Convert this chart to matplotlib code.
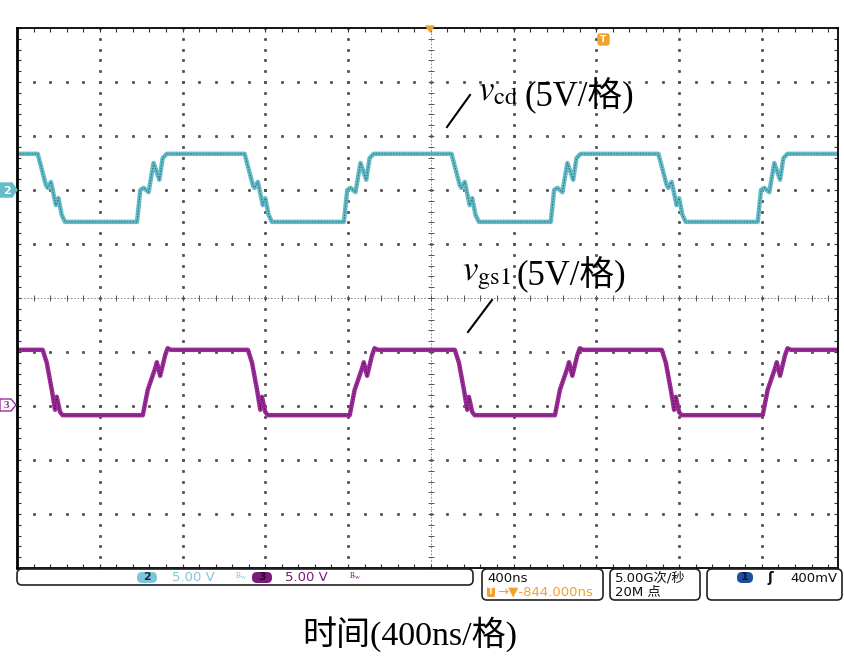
import matplotlib.pyplot as plt
import numpy as np
from matplotlib.patches import FancyBboxPatch, Polygon

plt.rcParams['mathtext.fontset'] = 'stix'

# screen units: x in divisions from the left edge, y in divisions from centre
x_max = 9.92

# channel 2 (v_cd): edge start times (div) and edge shapes (offset div, level div)
ch2_fall_t = [0.25, 2.75, 5.25, 7.75]
ch2_rise_t = [1.45, 3.95, 6.45, 8.95]
ch2_fall_dt = [0.00, 0.10, 0.12, 0.16, 0.22, 0.25, 0.29, 0.33]
ch2_fall_v = [2.67, 2.09, 2.04, 2.15, 1.72, 1.85, 1.54, 1.41]
ch2_rise_dt = [0.00, 0.04, 0.08, 0.14, 0.20, 0.27, 0.31, 0.36]
ch2_rise_v = [1.41, 2.00, 2.04, 1.96, 2.50, 2.19, 2.59, 2.67]

# channel 3 (v_gs1)
ch3_fall_t = [0.31, 2.79, 5.29, 7.79]
ch3_rise_t = [1.52, 4.02, 6.50, 9.01]
ch3_fall_dt = [0.00, 0.05, 0.11, 0.15, 0.17, 0.21, 0.24]
ch3_fall_v = [-0.96, -1.20, -1.70, -2.07, -1.83, -2.11, -2.17]
ch3_rise_dt = [0.00, 0.06, 0.15, 0.17, 0.21, 0.27, 0.30, 0.34]
ch3_rise_v = [-2.17, -1.70, -1.30, -1.19, -1.44, -1.06, -0.93, -0.96]

cyan, cyan_dark = '#64bcc8', '#1d5662'
purple, purple_dark = '#9b2c98', '#4a0848'
orange = '#f2a22e'


def trace(fall_t, rise_t, fall_dt, fall_v, rise_dt, rise_v):
    xs, ys = [0.0], [fall_v[0]]
    edges = sorted([(t, 'f') for t in fall_t] + [(t, 'r') for t in rise_t])
    for t, kind in edges:
        dt, v = (fall_dt, fall_v) if kind == 'f' else (rise_dt, rise_v)
        xs += [t + d for d in dt]
        ys += list(v)
    xs.append(x_max)
    ys.append(ys[-1])
    return xs, ys


fig = plt.figure(figsize=(8.44, 6.56), dpi=100)
ax = fig.add_axes([17 / 844, 88 / 656, 821 / 844, 540 / 656])
ax.set_xlim(0, x_max)
ax.set_ylim(-5, 5)

# graticule
for i in range(1, 10):
    if i == 5:
        continue
    yy = np.arange(-5, 5.01, 0.2)
    ax.plot(np.full_like(yy, i), yy, ls='none', marker='s', ms=1.1, color='#555')
for j in range(-4, 5):
    if j == 0:
        continue
    xx = np.arange(0, x_max, 0.2)
    ax.plot(xx, np.full_like(xx, j), ls='none', marker='s', ms=1.1, color='#555')
ax.axvline(5, color='#777', lw=0.6, ls=(0, (2, 2)))
ax.axhline(0, color='#777', lw=0.6, ls=(0, (2, 2)))
yy = np.arange(-5, 5.01, 0.2)
ax.plot(np.full_like(yy, 5), yy, ls='none', marker='_', ms=5, mew=0.7, color='#555')
xx = np.arange(0, x_max, 0.2)
ax.plot(xx, np.zeros_like(xx), ls='none', marker='|', ms=5, mew=0.7, color='#555')

ax.set_xticks(np.arange(0, x_max, 0.2))
ax.set_yticks(np.arange(-5, 5.01, 0.2))
ax.tick_params(direction='in', length=3, width=0.8, top=True, right=True,
               labelbottom=False, labelleft=False, color='#333')
for s in ax.spines.values():
    s.set_linewidth(1.3)
ax.spines['left'].set_linewidth(2)

# traces
x2, y2 = trace(ch2_fall_t, ch2_rise_t, ch2_fall_dt, ch2_fall_v, ch2_rise_dt, ch2_rise_v)
x3, y3 = trace(ch3_fall_t, ch3_rise_t, ch3_fall_dt, ch3_fall_v, ch3_rise_dt, ch3_rise_v)
ax.plot(x2, y2, color=cyan, lw=3.2, solid_joinstyle='round')
ax.plot(x2, y2, color=cyan_dark, lw=0.7, alpha=0.8, ls=(0, (1.5, 1.5)))
ax.plot(x3, y3, color=purple, lw=3.2, solid_joinstyle='round')
ax.plot(x3, y3, color=purple_dark, lw=0.7, alpha=0.8, ls=(0, (1.5, 1.5)))

# overlay in pixel coordinates
ov = fig.add_axes([0, 0, 1, 1], zorder=5)
ov.set_xlim(0, 844)
ov.set_ylim(656, 0)
ov.axis('off')
ov.patch.set_alpha(0)

# channel markers on the left
ov.add_patch(Polygon([(0, 183), (12, 183), (17, 190), (12, 197), (0, 197)],
                     closed=True, fc=cyan, ec=cyan))
ov.text(7, 190.5, '2', color='white', fontsize=8, fontweight='bold', ha='center', va='center')
ov.add_patch(Polygon([(0, 399), (11, 399), (16, 405), (11, 411), (0, 411)],
                     closed=True, fc='white', ec=purple, lw=1))
ov.text(6.5, 405.5, '3', color=purple, fontsize=8, fontweight='bold', ha='center', va='center',
        family='Liberation Serif')

# trigger markers
ov.add_patch(Polygon([(426, 26), (434, 26), (430, 32)], closed=True, fc=orange, ec=orange))
ov.add_patch(FancyBboxPatch((598, 34), 11, 11, boxstyle='round,pad=0,rounding_size=2',
                            fc=orange, ec=orange))
ov.text(603.5, 40, 'T', color='white', fontsize=6.5, fontweight='bold', ha='center', va='center')

# annotations
ov.plot([447, 470], [127, 95], color='black', lw=1.5)
ov.plot([468, 492], [332, 300], color='black', lw=1.5)
ov.text(478, 100, r'$v_{\mathrm{cd}}$', fontsize=25, ha='left', va='baseline')
ov.text(524, 106, '(5V/格)', fontsize=25, ha='left', va='baseline',
        family=['Liberation Serif', 'Noto Sans CJK SC'])
ov.text(462, 280, r'$v_{\mathrm{gs1}}$', fontsize=25, ha='left', va='baseline')
ov.text(516, 285, '(5V/格)', fontsize=25, ha='left', va='baseline',
        family=['Liberation Serif', 'Noto Sans CJK SC'])

# status bar
boxes = [(17, 569, 456, 16), (482, 569, 121, 31), (610, 569, 90, 31), (707, 569, 135, 31)]
for bx, by, bw, bh in boxes:
    ov.add_patch(FancyBboxPatch((bx, by), bw, bh, boxstyle='round,pad=0,rounding_size=5',
                                fc='white', ec='#222', lw=1.2))

sb = dict(fontsize=9.5, va='center', family=['DejaVu Sans', 'Noto Sans CJK SC'])
ov.add_patch(FancyBboxPatch((137, 572), 20, 11, boxstyle='round,pad=0,rounding_size=5',
                            fc='#7ec6da', ec='none'))
ov.text(147, 577.5, '2', color='#1a2a3a', fontsize=8, fontweight='bold', ha='center', va='center')
ov.text(172, 577.5, '5.00 V', color='#7ec6da', ha='left', **sb)
ov.text(235, 576.5, r'$\mathrm{B_W}$', color='#7ec6da', fontsize=5.5, ha='left', va='center')
ov.add_patch(FancyBboxPatch((252, 572), 20, 11, boxstyle='round,pad=0,rounding_size=5',
                            fc='#7a1a7a', ec='none'))
ov.text(262, 577.5, '3', color='#2a0a2a', fontsize=8, fontweight='bold', ha='center', va='center')
ov.text(285, 577.5, '5.00 V', color='#7a1a7a', ha='left', **sb)
ov.text(349, 576.5, r'$\mathrm{B_W}$', color='#7a1a7a', fontsize=5.5, ha='left', va='center')

ov.text(487, 578, '400ns', color='#111', ha='left', **sb)
ov.add_patch(FancyBboxPatch((487, 587), 8, 10, boxstyle='round,pad=0,rounding_size=1.5',
                            fc=orange, ec='none'))
ov.text(491, 592, 'T', color='white', fontsize=6, fontweight='bold', ha='center', va='center')
ov.text(497, 592, '→▼-844.000ns', color=orange, ha='left', **sb)

ov.text(615, 578, '5.00G次/秒', color='#111', ha='left', **sb)
ov.text(615, 592, '20M 点', color='#111', ha='left', **sb)

ov.add_patch(FancyBboxPatch((737, 572), 16, 11, boxstyle='round,pad=0,rounding_size=5',
                            fc='#1d4e9e', ec='none'))
ov.text(745, 577.5, '1', color='#0a1a3a', fontsize=8, fontweight='bold', ha='center', va='center')
ov.text(770, 578, 'ʃ', color='#111', fontsize=10, fontweight='bold', ha='center', va='center')
ov.text(790, 578, '400mV', color='#111', ha='left', **sb)

# caption
ov.text(302, 645, '时间(400ns/格)', fontsize=24.5, ha='left', va='baseline',
        family=['Liberation Serif', 'Noto Sans CJK SC'])

fig.savefig('out.png', dpi=100)
